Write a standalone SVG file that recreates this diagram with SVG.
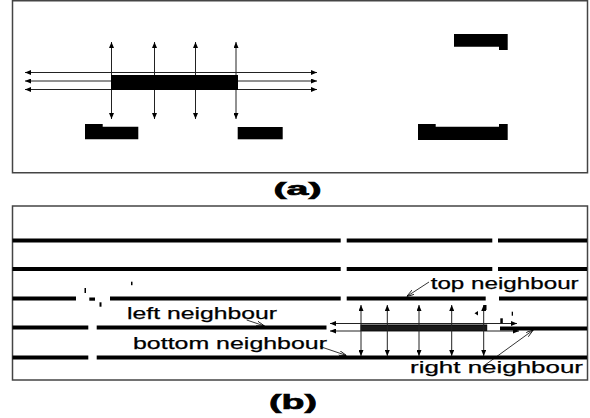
<svg xmlns="http://www.w3.org/2000/svg" width="590" height="418" viewBox="0 0 590 418">
<style>
.frame{fill:#fff;stroke:#444;stroke-width:1.5}
.thin{stroke:#222;stroke-width:1;fill:none}
.road{stroke:#000;stroke-width:4;fill:none}
.blk{fill:#000}
.ptr{stroke:#000;stroke-width:0.8;fill:none}
.lbl{font-family:"Liberation Sans",Arial,sans-serif;font-size:17px;fill:#000;stroke:#000;stroke-width:0.25}
.cap{font-family:"Liberation Sans",Arial,sans-serif;font-weight:bold;fill:#000;stroke:#000;stroke-width:0.6}
</style>
<defs>
<marker id="ah" viewBox="0 0 6 5" refX="6" refY="2.5" markerWidth="6" markerHeight="5" markerUnits="userSpaceOnUse" orient="auto-start-reverse">
<path d="M0,0 L6,2.5 L0,5 z" fill="#000"/>
</marker>
<marker id="ap" viewBox="0 0 8 5" refX="8" refY="2.5" markerWidth="8" markerHeight="5" markerUnits="userSpaceOnUse" orient="auto">
<path d="M0,0 L8,2.5 L0,5" fill="none" stroke="#000" stroke-width="0.8"/>
</marker>
</defs>
<rect width="590" height="418" fill="#fff"/>

<!-- Panel (a) -->
<g id="panel-a">
<rect class="frame" x="12.5" y="0.75" width="575" height="172"/>
</g>
<g id="connectors-a">
<line class="thin" x1="25" y1="72.5" x2="317" y2="72.5" marker-start="url(#ah)" marker-end="url(#ah)"/>
<line class="thin" x1="25" y1="81" x2="317" y2="81" marker-start="url(#ah)" marker-end="url(#ah)"/>
<line class="thin" x1="25" y1="89.5" x2="317" y2="89.5" marker-start="url(#ah)" marker-end="url(#ah)"/>
<line class="thin" x1="111.5" y1="42" x2="111.5" y2="119" marker-start="url(#ah)" marker-end="url(#ah)"/>
<line class="thin" x1="154.5" y1="42" x2="154.5" y2="119" marker-start="url(#ah)" marker-end="url(#ah)"/>
<line class="thin" x1="195.5" y1="42" x2="195.5" y2="119" marker-start="url(#ah)" marker-end="url(#ah)"/>
<line class="thin" x1="236" y1="42" x2="236" y2="119" marker-start="url(#ah)" marker-end="url(#ah)"/>
</g>
<g id="bar-a"><rect class="blk" x="111" y="75" width="127" height="15"/></g>
<g id="block-a1"><path class="blk" d="M85,124 H102.7 V126.7 H138.3 V139.3 H85 z"/></g>
<g id="block-a2"><rect class="blk" x="237.7" y="127" width="45" height="12.3"/></g>
<g id="block-a3"><path class="blk" d="M454,34 H507.7 V50 H499 V46.7 H454 z"/></g>
<g id="block-a4"><path class="blk" d="M418,124 H435.7 V126.7 H499 V124 H507.7 V140 H418 z"/></g>
<g id="label-a"><text class="cap" x="273.5" y="195" font-size="18" textLength="48" lengthAdjust="spacingAndGlyphs">(a)</text></g>

<!-- Panel (b) -->
<g id="panel-b">
<rect class="frame" x="12.5" y="206" width="575" height="174"/>
</g>
<g id="roads">
<path class="road" d="M12.5,240.5 H340.7 M346.7,240.5 H492.3 M498,240.5 H587"/>
<path class="road" d="M12.5,269 H340.7 M346.7,269 H492.3 M498,269 H587"/>
<path class="road" d="M12.5,298.5 H76 M110,298.5 H340.7 M346.7,298.5 H485.7 M499,298.5 H587"/>
<path class="road" d="M12.5,327.5 H88.3 M96.7,327.5 H326.5 M500,328.5 H587"/>
<path class="road" d="M12.5,357.5 H88.3 M96.7,357.5 H587"/>
<rect x="84.5" y="288" width="1.5" height="5" class="blk"/>
<rect x="89.3" y="297.5" width="5.7" height="3.2" class="blk"/>
<rect x="99.5" y="302.3" width="2" height="4.4" class="blk"/>
<rect x="131" y="281.7" width="1.5" height="3.5" class="blk"/>
<path class="blk" d="M474.5,313.3 L478,311 L478,315.6 z"/>
<rect x="511.7" y="311.7" width="1.3" height="4" class="blk"/>
<rect x="500.3" y="318.3" width="2.5" height="5" class="blk"/>
<rect x="484" y="305" width="2.5" height="5" class="blk"/>
</g>
<g id="bar-b"><rect x="361" y="325" width="125.7" height="5.5" fill="#1a1a1a" stroke="#000" stroke-width="1"/></g>
<g id="connectors-b">
<line class="thin" x1="330" y1="323.5" x2="517" y2="323.5" marker-start="url(#ah)" marker-end="url(#ah)"/>
<line class="thin" x1="330" y1="331" x2="519" y2="331" marker-start="url(#ah)" marker-end="url(#ah)"/>
<line class="thin" x1="361" y1="305" x2="361" y2="356" marker-start="url(#ah)" marker-end="url(#ah)"/>
<line class="thin" x1="387.3" y1="305" x2="387.3" y2="356" marker-start="url(#ah)" marker-end="url(#ah)"/>
<line class="thin" x1="419" y1="305" x2="419" y2="356" marker-start="url(#ah)" marker-end="url(#ah)"/>
<line class="thin" x1="451.7" y1="305" x2="451.7" y2="356" marker-start="url(#ah)" marker-end="url(#ah)"/>
<line class="thin" x1="483.7" y1="305" x2="483.7" y2="356" marker-start="url(#ah)" marker-end="url(#ah)"/>
<line class="ptr" x1="429" y1="282" x2="406.7" y2="296.5" marker-end="url(#ap)"/>
<line class="ptr" x1="246.7" y1="320" x2="264.5" y2="326" marker-end="url(#ap)"/>
<line class="ptr" x1="320" y1="346.5" x2="346.5" y2="355.5" marker-end="url(#ap)"/>
<line class="ptr" x1="482.7" y1="366.7" x2="533.3" y2="330" marker-end="url(#ap)"/>
</g>
<g id="label-top"><text class="lbl" x="430.7" y="289" textLength="148" lengthAdjust="spacingAndGlyphs">top neighbour</text></g>
<g id="label-left"><text class="lbl" x="127" y="319.3" textLength="150" lengthAdjust="spacingAndGlyphs">left neighbour</text></g>
<g id="label-bottom"><text class="lbl" x="133" y="349.3" textLength="194" lengthAdjust="spacingAndGlyphs">bottom neighbour</text></g>
<g id="label-right"><text class="lbl" x="410" y="373" textLength="173" lengthAdjust="spacingAndGlyphs">right neighbour</text></g>
<g id="label-b"><text class="cap" x="269" y="409" font-size="20" textLength="48" lengthAdjust="spacingAndGlyphs">(b)</text></g>
</svg>
